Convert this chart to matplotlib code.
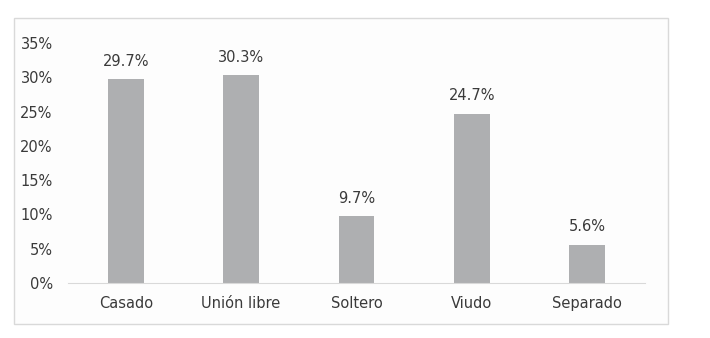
import matplotlib.pyplot as plt
from matplotlib.patches import Rectangle
from matplotlib.ticker import FuncFormatter

categorias = ['Casado', 'Unión libre', 'Soltero', 'Viudo', 'Separado']
porcentajes = [29.7, 30.3, 9.7, 24.7, 5.6]
etiquetas = ['29.7%', '30.3%', '9.7%', '24.7%', '5.6%']
yticks = [0, 5, 10, 15, 20, 25, 30, 35]

plt.rcParams['font.family'] = ['DejaVu Sans']
texto = '#3a3a3a'

fig = plt.figure(figsize=(7.1, 3.38), dpi=100)
fig.patch.set_facecolor('white')

# marco del grafico (detras de los ejes)
marco = Rectangle((0.0197, 0.0414), 0.9211, 0.9053, transform=fig.transFigure,
                  facecolor='#fdfdfd', edgecolor='#d9d9d9', linewidth=1.0, zorder=-1)
fig.patches.append(marco)

ax = fig.add_axes([0.0958, 0.1627, 0.8127, 0.7101])
ax.set_zorder(1)
ax.set_facecolor('none')

x = range(len(categorias))
ax.bar(x, porcentajes, width=0.31, color='#aeafb1', zorder=2)

for xi, v, lab in zip(x, porcentajes, etiquetas):
    ax.annotate(lab, (xi, v), xytext=(0, 13), textcoords='offset points',
                ha='center', va='center', fontsize=10.5, color=texto)

ax.set_xlim(-0.5, 4.5)
ax.set_ylim(0, 35)
ax.set_yticks(yticks)
ax.yaxis.set_major_formatter(FuncFormatter(lambda v, p: '%d%%' % v))
ax.set_xticks(list(x))
ax.set_xticklabels(categorias)

for s in ['top', 'right', 'left']:
    ax.spines[s].set_visible(False)
ax.spines['bottom'].set_color('#d9d9d9')
ax.tick_params(axis='both', length=0, labelsize=10.5, colors=texto)
ax.tick_params(axis='x', pad=9)
ax.tick_params(axis='y', pad=11)

fig.savefig('out.png', dpi=100)
